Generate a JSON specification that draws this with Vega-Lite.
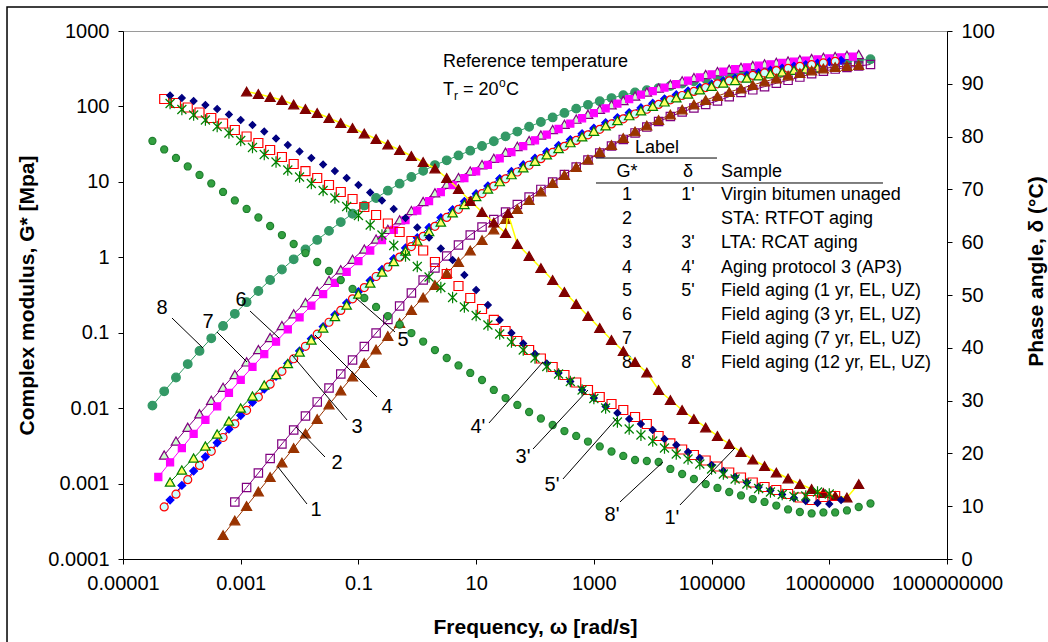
{
"$schema":"https://vega.github.io/schema/vega-lite/v6.json",
"width":824,"height":528,"autosize":"none",
"padding":{"left":123,"top":31,"right":101,"bottom":83},
"background":"white",
"config":{"font":"Liberation Sans","view":{"stroke":"#9a9a9a","strokeWidth":1},
"axis":{"grid":false,"domainColor":"#000","domainWidth":1,"tickColor":"#000","tickSize":5,"tickWidth":1,"labelColor":"#000","labelFont":"Liberation Sans","labelFontSize":20,"labelPadding":9,"labelOverlap":false,"labelFlush":false,"titleColor":"#000","titleFont":"Liberation Sans","titleFontSize":21,"titleFontWeight":"bold"}},
"datasets":{
"G":[
{"s":"8","w":3.162e-5,"g":0.0108},{"s":"8","w":5.012e-5,"g":0.0167},{"s":"8","w":7.943e-5,"g":0.0255},{"s":"8","w":1.259e-4,"g":0.0384},{"s":"8","w":1.995e-4,"g":0.0574},{"s":"8","w":3.162e-4,"g":0.0843},{"s":"8","w":5.012e-4,"g":0.123},{"s":"8","w":7.943e-4,"g":0.178},{"s":"8","w":1.259e-3,"g":0.254},{"s":"8","w":1.995e-3,"g":0.357},{"s":"8","w":3.162e-3,"g":0.5},{"s":"8","w":5.012e-3,"g":0.689},{"s":"8","w":7.943e-3,"g":0.94},{"s":"8","w":0.01259,"g":1.27},{"s":"8","w":0.01995,"g":1.7},{"s":"8","w":0.03162,"g":2.24},{"s":"8","w":0.05012,"g":2.93},{"s":"8","w":0.07943,"g":3.78},{"s":"8","w":0.1259,"g":4.84},{"s":"8","w":0.1995,"g":6.11},{"s":"8","w":0.3162,"g":7.64},{"s":"8","w":0.5012,"g":9.46},{"s":"8","w":0.7943,"g":11.6},{"s":"8","w":1.259,"g":14},{"s":"8","w":1.995,"g":16.7},{"s":"8","w":3.162,"g":19.3},{"s":"8","w":5.012,"g":22.4},{"s":"8","w":7.943,"g":25.9},{"s":"8","w":12.59,"g":29.9},{"s":"8","w":19.95,"g":34.6},{"s":"8","w":31.62,"g":40.1},{"s":"8","w":50.12,"g":46.4},{"s":"8","w":79.43,"g":53.7},{"s":"8","w":125.9,"g":62.2},{"s":"8","w":199.5,"g":71.5},{"s":"8","w":316.2,"g":82},{"s":"8","w":501.2,"g":93.5},{"s":"8","w":794.3,"g":105},{"s":"8","w":1259,"g":117},{"s":"8","w":1995,"g":129},{"s":"8","w":3162,"g":141},{"s":"8","w":5012,"g":153},{"s":"8","w":7943,"g":164},{"s":"8","w":12590,"g":175},{"s":"8","w":19950,"g":187},{"s":"8","w":31620,"g":201},{"s":"8","w":50120,"g":216},{"s":"8","w":79430,"g":232},{"s":"8","w":1.259e5,"g":247},{"s":"8","w":1.995e5,"g":264},{"s":"8","w":3.162e5,"g":277},{"s":"8","w":5.012e5,"g":290},{"s":"8","w":7.943e5,"g":304},{"s":"8","w":1.259e6,"g":318},{"s":"8","w":1.995e6,"g":330},{"s":"8","w":3.162e6,"g":344},{"s":"8","w":5.012e6,"g":356},{"s":"8","w":7.943e6,"g":370},{"s":"8","w":1.259e7,"g":382},{"s":"8","w":1.995e7,"g":395},{"s":"8","w":3.162e7,"g":409},{"s":"8","w":5.012e7,"g":422},
{"s":"7","w":5.012e-5,"g":0.00239},{"s":"7","w":7.943e-5,"g":0.00366},{"s":"7","w":1.259e-4,"g":0.00558},{"s":"7","w":1.995e-4,"g":0.00843},{"s":"7","w":3.162e-4,"g":0.01268},{"s":"7","w":5.012e-4,"g":0.01888},{"s":"7","w":7.943e-4,"g":0.02793},{"s":"7","w":1.259e-3,"g":0.04102},{"s":"7","w":1.995e-3,"g":0.0597},{"s":"7","w":3.162e-3,"g":0.0865},{"s":"7","w":5.012e-3,"g":0.1242},{"s":"7","w":7.943e-3,"g":0.1778},{"s":"7","w":0.01259,"g":0.2506},{"s":"7","w":0.01995,"g":0.3532},{"s":"7","w":0.03162,"g":0.4943},{"s":"7","w":0.05012,"g":0.684},{"s":"7","w":0.07943,"g":0.94},{"s":"7","w":0.1259,"g":1.285},{"s":"7","w":0.1995,"g":1.742},{"s":"7","w":0.3162,"g":2.344},{"s":"7","w":0.5012,"g":3.14},{"s":"7","w":0.7943,"g":4.16},{"s":"7","w":1.259,"g":5.5},{"s":"7","w":1.995,"g":7.16},{"s":"7","w":3.162,"g":9.31},{"s":"7","w":5.012,"g":11.4},{"s":"7","w":7.943,"g":13.9},{"s":"7","w":12.59,"g":16.9},{"s":"7","w":19.95,"g":20.5},{"s":"7","w":31.62,"g":24.7},{"s":"7","w":50.12,"g":29.5},{"s":"7","w":79.43,"g":35.2},{"s":"7","w":125.9,"g":41.8},{"s":"7","w":199.5,"g":49.3},{"s":"7","w":316.2,"g":57.9},{"s":"7","w":501.2,"g":67.8},{"s":"7","w":794.3,"g":78.7},{"s":"7","w":1259,"g":91.5},{"s":"7","w":1995,"g":105},{"s":"7","w":3162,"g":120},{"s":"7","w":5012,"g":137},{"s":"7","w":7943,"g":155},{"s":"7","w":12590,"g":175},{"s":"7","w":19950,"g":196},{"s":"7","w":31620,"g":218},{"s":"7","w":50120,"g":241},{"s":"7","w":79430,"g":265},{"s":"7","w":1.259e5,"g":289},{"s":"7","w":1.995e5,"g":311},{"s":"7","w":3.162e5,"g":330},{"s":"7","w":5.012e5,"g":349},{"s":"7","w":7.943e5,"g":366},{"s":"7","w":1.259e6,"g":384},{"s":"7","w":1.995e6,"g":400},{"s":"7","w":3.162e6,"g":417},{"s":"7","w":5.012e6,"g":432},{"s":"7","w":7.943e6,"g":447},{"s":"7","w":1.259e7,"g":460},{"s":"7","w":1.995e7,"g":475},{"s":"7","w":3.162e7,"g":488},
{"s":"6","w":3.981e-5,"g":1.222e-3},{"s":"6","w":6.31e-5,"g":1.91e-3},{"s":"6","w":1e-4,"g":2.96e-3},{"s":"6","w":1.585e-4,"g":4.56e-3},{"s":"6","w":2.512e-4,"g":6.97e-3},{"s":"6","w":3.981e-4,"g":0.01054},{"s":"6","w":6.31e-4,"g":0.01589},{"s":"6","w":1e-3,"g":0.02377},{"s":"6","w":1.585e-3,"g":0.03524},{"s":"6","w":2.512e-3,"g":0.05188},{"s":"6","w":3.981e-3,"g":0.076},{"s":"6","w":6.31e-3,"g":0.1107},{"s":"6","w":0.01,"g":0.1592},{"s":"6","w":0.01585,"g":0.228},{"s":"6","w":0.02512,"g":0.3243},{"s":"6","w":0.03981,"g":0.4592},{"s":"6","w":0.0631,"g":0.64},{"s":"6","w":0.1,"g":0.889},{"s":"6","w":0.1585,"g":1.23},{"s":"6","w":0.2512,"g":1.687},{"s":"6","w":0.3981,"g":2.301},{"s":"6","w":0.631,"g":3.105},{"s":"6","w":1,"g":4.169},{"s":"6","w":1.585,"g":5.546},{"s":"6","w":2.512,"g":7.31},{"s":"6","w":3.981,"g":9.08},{"s":"6","w":6.31,"g":11.19},{"s":"6","w":10,"g":13.77},{"s":"6","w":15.85,"g":16.83},{"s":"6","w":25.12,"g":20.46},{"s":"6","w":39.81,"g":24.7},{"s":"6","w":63.1,"g":29.7},{"s":"6","w":100,"g":35.6},{"s":"6","w":158.5,"g":42.4},{"s":"6","w":251.2,"g":50.2},{"s":"6","w":398.1,"g":59.2},{"s":"6","w":631,"g":69.7},{"s":"6","w":1000,"g":81.3},{"s":"6","w":1585,"g":94.4},{"s":"6","w":2512,"g":109},{"s":"6","w":3981,"g":125},{"s":"6","w":6310,"g":143},{"s":"6","w":10000,"g":160},{"s":"6","w":15850,"g":178},{"s":"6","w":25120,"g":198},{"s":"6","w":39810,"g":220},{"s":"6","w":63100,"g":242},{"s":"6","w":1e5,"g":266},{"s":"6","w":1.585e5,"g":290},{"s":"6","w":2.512e5,"g":312},{"s":"6","w":3.981e5,"g":330},{"s":"6","w":6.31e5,"g":347},{"s":"6","w":1e6,"g":362},{"s":"6","w":1.585e6,"g":377},{"s":"6","w":2.512e6,"g":392},{"s":"6","w":3.981e6,"g":406},{"s":"6","w":6.31e6,"g":420},{"s":"6","w":1e7,"g":433},{"s":"6","w":1.585e7,"g":446},{"s":"6","w":2.512e7,"g":458},
{"s":"4","w":6.31e-5,"g":6.05e-4},{"s":"4","w":1e-4,"g":9.46e-4},{"s":"4","w":1.585e-4,"g":1.469e-3},{"s":"4","w":2.512e-4,"g":2.265e-3},{"s":"4","w":3.981e-4,"g":3.475e-3},{"s":"4","w":6.31e-4,"g":5.27e-3},{"s":"4","w":1e-3,"g":7.99e-3},{"s":"4","w":1.585e-3,"g":0.012},{"s":"4","w":2.512e-3,"g":0.0179},{"s":"4","w":3.981e-3,"g":0.0265},{"s":"4","w":6.31e-3,"g":0.0391},{"s":"4","w":0.01,"g":0.0574},{"s":"4","w":0.01585,"g":0.0834},{"s":"4","w":0.02512,"g":0.1205},{"s":"4","w":0.03981,"g":0.173},{"s":"4","w":0.0631,"g":0.2477},{"s":"4","w":0.1,"g":0.35},{"s":"4","w":0.1585,"g":0.492},{"s":"4","w":0.2512,"g":0.69},{"s":"4","w":0.3981,"g":0.957},{"s":"4","w":0.631,"g":1.327},{"s":"4","w":1,"g":1.82},{"s":"4","w":1.585,"g":2.483},{"s":"4","w":2.512,"g":3.357},{"s":"4","w":3.981,"g":4.266},{"s":"4","w":6.31,"g":5.51},{"s":"4","w":10,"g":6.98},{"s":"4","w":15.85,"g":8.81},{"s":"4","w":25.12,"g":11.04},{"s":"4","w":39.81,"g":13.68},{"s":"4","w":63.1,"g":16.83},{"s":"4","w":100,"g":20.6},{"s":"4","w":158.5,"g":25.1},{"s":"4","w":251.2,"g":30.3},{"s":"4","w":398.1,"g":36.3},{"s":"4","w":631,"g":43.4},{"s":"4","w":1000,"g":51.4},{"s":"4","w":1585,"g":60.7},{"s":"4","w":2512,"g":71.1},{"s":"4","w":3981,"g":82.8},{"s":"4","w":6310,"g":95.9},{"s":"4","w":10000,"g":110},{"s":"4","w":15850,"g":126},{"s":"4","w":25120,"g":143},{"s":"4","w":39810,"g":160},{"s":"4","w":63100,"g":179},{"s":"4","w":1e5,"g":198},{"s":"4","w":1.585e5,"g":219},{"s":"4","w":2.512e5,"g":239},{"s":"4","w":3.981e5,"g":259},{"s":"4","w":6.31e5,"g":280},{"s":"4","w":1e6,"g":301},{"s":"4","w":1.585e6,"g":321},{"s":"4","w":2.512e6,"g":340},{"s":"4","w":3.981e6,"g":357},{"s":"4","w":6.31e6,"g":375},{"s":"4","w":1e7,"g":392},{"s":"4","w":1.585e7,"g":407},
{"s":"3","w":5.012e-5,"g":4.9e-4},{"s":"3","w":7.943e-5,"g":7.23e-4},{"s":"3","w":1.259e-4,"g":1.125e-3},{"s":"3","w":1.995e-4,"g":1.742e-3},{"s":"3","w":3.162e-4,"g":2.679e-3},{"s":"3","w":5.012e-4,"g":4.083e-3},{"s":"3","w":7.943e-4,"g":6.19e-3},{"s":"3","w":1.259e-3,"g":9.35e-3},{"s":"3","w":1.995e-3,"g":0.014},{"s":"3","w":3.162e-3,"g":0.0208},{"s":"3","w":5.012e-3,"g":0.03076},{"s":"3","w":7.943e-3,"g":0.04519},{"s":"3","w":0.01259,"g":0.0661},{"s":"3","w":0.01995,"g":0.0957},{"s":"3","w":0.03162,"g":0.1377},{"s":"3","w":0.05012,"g":0.1977},{"s":"3","w":0.07943,"g":0.2812},{"s":"3","w":0.1259,"g":0.3963},{"s":"3","w":0.1995,"g":0.5559},{"s":"3","w":0.3162,"g":0.741},{"s":"3","w":0.5012,"g":1.005},{"s":"3","w":0.7943,"g":1.387},{"s":"3","w":1.259,"g":1.897},{"s":"3","w":1.995,"g":2.576},{"s":"3","w":3.162,"g":3.373},{"s":"3","w":5.012,"g":4.325},{"s":"3","w":7.943,"g":5.534},{"s":"3","w":12.59,"g":7},{"s":"3","w":19.95,"g":8.79},{"s":"3","w":31.62,"g":10.96},{"s":"3","w":50.12,"g":13.52},{"s":"3","w":79.43,"g":16.6},{"s":"3","w":125.9,"g":20.28},{"s":"3","w":199.5,"g":24.55},{"s":"3","w":316.2,"g":29.58},{"s":"3","w":501.2,"g":35.4},{"s":"3","w":794.3,"g":42.07},{"s":"3","w":1259,"g":49.77},{"s":"3","w":1995,"g":58.6},{"s":"3","w":3162,"g":68.4},{"s":"3","w":5012,"g":79.4},{"s":"3","w":7943,"g":91.8},{"s":"3","w":12590,"g":106.4},{"s":"3","w":19950,"g":122.2},{"s":"3","w":31620,"g":139.6},{"s":"3","w":50120,"g":158.1},{"s":"3","w":79430,"g":177.8},{"s":"3","w":1.259e5,"g":199.1},{"s":"3","w":1.995e5,"g":218.3},{"s":"3","w":3.162e5,"g":237.7},{"s":"3","w":5.012e5,"g":257.6},{"s":"3","w":7.943e5,"g":277.3},{"s":"3","w":1.259e6,"g":298.5},{"s":"3","w":1.995e6,"g":319.2},{"s":"3","w":3.162e6,"g":338.8},{"s":"3","w":5.012e6,"g":358.1},{"s":"3","w":7.943e6,"g":377.6},{"s":"3","w":1.259e7,"g":395.4},
{"s":"5","w":6.31e-5,"g":1.05e-3},{"s":"5","w":1e-4,"g":1.514e-3},{"s":"5","w":1.585e-4,"g":2.183e-3},{"s":"5","w":2.512e-4,"g":3.148e-3},{"s":"5","w":3.981e-4,"g":4.54e-3},{"s":"5","w":6.31e-4,"g":6.76e-3},{"s":"5","w":1e-3,"g":0.01005},{"s":"5","w":1.585e-3,"g":0.01449},{"s":"5","w":2.512e-3,"g":0.02028},{"s":"5","w":3.981e-3,"g":0.02793},{"s":"5","w":6.31e-3,"g":0.0391},{"s":"5","w":0.01,"g":0.0555},{"s":"5","w":0.01585,"g":0.08},{"s":"5","w":0.02512,"g":0.1156},{"s":"5","w":0.03981,"g":0.1641},{"s":"5","w":0.0631,"g":0.2328},{"s":"5","w":0.1,"g":0.3258},{"s":"5","w":0.1585,"g":0.456},{"s":"5","w":0.2512,"g":0.638},{"s":"5","w":0.3981,"g":0.879},{"s":"5","w":0.631,"g":1.211},{"s":"5","w":1,"g":1.644},{"s":"5","w":1.585,"g":2.198},{"s":"5","w":2.512,"g":2.938},{"s":"5","w":3.981,"g":3.89},{"s":"5","w":6.31,"g":5.02},{"s":"5","w":10,"g":6.38},{"s":"5","w":15.85,"g":8.04},{"s":"5","w":25.12,"g":10.07},{"s":"5","w":39.81,"g":12.47},{"s":"5","w":63.1,"g":15.35},{"s":"5","w":100,"g":18.79},{"s":"5","w":158.5,"g":22.86},{"s":"5","w":251.2,"g":27.61},{"s":"5","w":398.1,"g":33.11},{"s":"5","w":631,"g":39.54},{"s":"5","w":1000,"g":46.99},{"s":"5","w":1585,"g":55.3},{"s":"5","w":2512,"g":64.9},{"s":"5","w":3981,"g":75.5},{"s":"5","w":6310,"g":87.5},{"s":"5","w":10000,"g":100.7},{"s":"5","w":15850,"g":114.8},{"s":"5","w":25120,"g":130},{"s":"5","w":39810,"g":146},{"s":"5","w":63100,"g":166},{"s":"5","w":1e5,"g":185},{"s":"5","w":1.585e5,"g":204},{"s":"5","w":2.512e5,"g":221},{"s":"5","w":3.981e5,"g":238},{"s":"5","w":6.31e5,"g":255},{"s":"5","w":1e6,"g":271},{"s":"5","w":1.585e6,"g":286},{"s":"5","w":2.512e6,"g":301},{"s":"5","w":3.981e6,"g":313},{"s":"5","w":6.31e6,"g":325},
{"s":"2","w":7.943e-4,"g":5.7e-4},{"s":"2","w":1.259e-3,"g":8.87e-4},{"s":"2","w":1.995e-3,"g":1.38e-3},{"s":"2","w":3.162e-3,"g":2.148e-3},{"s":"2","w":5.012e-3,"g":3.35e-3},{"s":"2","w":7.943e-3,"g":5.13e-3},{"s":"2","w":0.01259,"g":7.87e-3},{"s":"2","w":0.01995,"g":0.01208},{"s":"2","w":0.03162,"g":0.01849},{"s":"2","w":0.05012,"g":0.02838},{"s":"2","w":0.07943,"g":0.04345},{"s":"2","w":0.1259,"g":0.0656},{"s":"2","w":0.1995,"g":0.0991},{"s":"2","w":0.3162,"g":0.1496},{"s":"2","w":0.5012,"g":0.2259},{"s":"2","w":0.7943,"g":0.3365},{"s":"2","w":1.259,"g":0.5},{"s":"2","w":1.995,"g":0.721},{"s":"2","w":3.162,"g":1.04},{"s":"2","w":5.012,"g":1.455},{"s":"2","w":7.943,"g":1.977},{"s":"2","w":12.59,"g":2.523},{"s":"2","w":19.95,"g":3.17},{"s":"2","w":31.62,"g":3.981},{"s":"2","w":50.12,"g":5.012},{"s":"2","w":79.43,"g":6.3},{"s":"2","w":125.9,"g":7.93},{"s":"2","w":199.5,"g":9.95},{"s":"2","w":316.2,"g":12.53},{"s":"2","w":501.2,"g":15.74},{"s":"2","w":794.3,"g":19.5},{"s":"2","w":1259,"g":24.15},{"s":"2","w":1995,"g":29.85},{"s":"2","w":3162,"g":36.5},{"s":"2","w":5012,"g":44.5},{"s":"2","w":7943,"g":53.3},{"s":"2","w":12590,"g":63.1},{"s":"2","w":19950,"g":73.5},{"s":"2","w":31620,"g":84.3},{"s":"2","w":50120,"g":95.3},{"s":"2","w":79430,"g":106.1},{"s":"2","w":1.259e5,"g":118},{"s":"2","w":1.995e5,"g":135},{"s":"2","w":3.162e5,"g":153},{"s":"2","w":5.012e5,"g":166},{"s":"2","w":7.943e5,"g":183},{"s":"2","w":1.259e6,"g":203},{"s":"2","w":1.995e6,"g":222},{"s":"2","w":3.162e6,"g":245},{"s":"2","w":5.012e6,"g":272},{"s":"2","w":7.943e6,"g":294},{"s":"2","w":1.259e7,"g":313},{"s":"2","w":1.995e7,"g":328},{"s":"2","w":3.162e7,"g":343},{"s":"2","w":5.012e7,"g":360},
{"s":"1","w":5.012e-4,"g":2.08e-4},{"s":"1","w":7.943e-4,"g":3.243e-4},{"s":"1","w":1.259e-3,"g":5.05e-4},{"s":"1","w":1.995e-3,"g":7.85e-4},{"s":"1","w":3.162e-3,"g":1.222e-3},{"s":"1","w":5.012e-3,"g":1.901e-3},{"s":"1","w":7.943e-3,"g":2.965e-3},{"s":"1","w":0.01259,"g":4.61e-3},{"s":"1","w":0.01995,"g":7.18e-3},{"s":"1","w":0.03162,"g":0.01117},{"s":"1","w":0.05012,"g":0.01714},{"s":"1","w":0.07943,"g":0.0263},{"s":"1","w":0.1259,"g":0.03972},{"s":"1","w":0.1995,"g":0.06},{"s":"1","w":0.3162,"g":0.0906},{"s":"1","w":0.5012,"g":0.1346},{"s":"1","w":0.7943,"g":0.2},{"s":"1","w":1.259,"g":0.2931},{"s":"1","w":1.995,"g":0.4295},{"s":"1","w":3.162,"g":0.6194},{"s":"1","w":5.012,"g":0.867},{"s":"1","w":7.943,"g":1.23},{"s":"1","w":12.59,"g":1.694},{"s":"1","w":19.95,"g":2.333},{"s":"1","w":31.62,"g":3.221},{"s":"1","w":50.12,"g":4.365},{"s":"1","w":79.43,"g":5.75},{"s":"1","w":125.9,"g":7.45},{"s":"1","w":199.5,"g":9.66},{"s":"1","w":316.2,"g":12.33},{"s":"1","w":501.2,"g":15.74},{"s":"1","w":794.3,"g":19.77},{"s":"1","w":1259,"g":24.88},{"s":"1","w":1995,"g":30.83},{"s":"1","w":3162,"g":38.2},{"s":"1","w":5012,"g":46.6},{"s":"1","w":7943,"g":55.9},{"s":"1","w":12590,"g":66.1},{"s":"1","w":19950,"g":78.2},{"s":"1","w":31620,"g":91},{"s":"1","w":50120,"g":106.1},{"s":"1","w":79430,"g":121.7},{"s":"1","w":1.259e5,"g":137.4},{"s":"1","w":1.995e5,"g":155.2},{"s":"1","w":3.162e5,"g":172.9},{"s":"1","w":5.012e5,"g":192.3},{"s":"1","w":7.943e5,"g":213.8},{"s":"1","w":1.259e6,"g":234.4},{"s":"1","w":1.995e6,"g":257},{"s":"1","w":3.162e6,"g":277.3},{"s":"1","w":5.012e6,"g":299.2},{"s":"1","w":7.943e6,"g":318.4},{"s":"1","w":1.259e7,"g":333.4},{"s":"1","w":1.995e7,"g":343.6},{"s":"1","w":3.162e7,"g":354}
],
"D":[
{"s":"1'","w":1.259e-3,"d":88.54},{"s":"1'","w":1.995e-3,"d":88.07},{"s":"1'","w":3.162e-3,"d":87.5},{"s":"1'","w":5.012e-3,"d":86.93},{"s":"1'","w":7.943e-3,"d":86.08},{"s":"1'","w":0.01259,"d":85.23},{"s":"1'","w":0.01995,"d":84.47},{"s":"1'","w":0.03162,"d":83.52},{"s":"1'","w":0.05012,"d":82.58},{"s":"1'","w":0.07943,"d":81.63},{"s":"1'","w":0.1259,"d":80.59},{"s":"1'","w":0.1995,"d":79.55},{"s":"1'","w":0.3162,"d":78.5},{"s":"1'","w":0.5012,"d":77.46},{"s":"1'","w":0.7943,"d":76.33},{"s":"1'","w":1.259,"d":75.19},{"s":"1'","w":1.995,"d":73.96},{"s":"1'","w":3.162,"d":72.16},{"s":"1'","w":5.012,"d":70.08},{"s":"1'","w":7.943,"d":67.8},{"s":"1'","w":12.59,"d":65.72},{"s":"1'","w":19.95,"d":63.73},{"s":"1'","w":31.62,"d":61.74},{"s":"1'","w":34.7,"d":65.5},{"s":"1'","w":50.12,"d":59.66},{"s":"1'","w":79.43,"d":57.39},{"s":"1'","w":125.9,"d":55.11},{"s":"1'","w":199.5,"d":52.84},{"s":"1'","w":316.2,"d":50.57},{"s":"1'","w":501.2,"d":48.3},{"s":"1'","w":794.3,"d":46.02},{"s":"1'","w":1259,"d":43.75},{"s":"1'","w":1995,"d":41.48},{"s":"1'","w":3162,"d":39.39},{"s":"1'","w":5012,"d":37.31},{"s":"1'","w":7943,"d":35.32},{"s":"1'","w":12590,"d":32.01},{"s":"1'","w":19950,"d":30.11},{"s":"1'","w":31620,"d":28.22},{"s":"1'","w":50120,"d":26.52},{"s":"1'","w":79430,"d":24.91},{"s":"1'","w":1.259e5,"d":23.3},{"s":"1'","w":1.995e5,"d":21.78},{"s":"1'","w":3.162e5,"d":20.27},{"s":"1'","w":5.012e5,"d":18.84},{"s":"1'","w":7.943e5,"d":17.61},{"s":"1'","w":1.259e6,"d":16.38},{"s":"1'","w":1.995e6,"d":15.25},{"s":"1'","w":3.162e6,"d":14.2},{"s":"1'","w":5.012e6,"d":13.26},{"s":"1'","w":7.943e6,"d":12.5},{"s":"1'","w":1.259e7,"d":11.93},{"s":"1'","w":1.995e7,"d":11.65},{"s":"1'","w":3.162e7,"d":14.2},
{"s":"3'","w":5.012e-5,"d":87.12},{"s":"3'","w":7.943e-5,"d":86.36},{"s":"3'","w":1.259e-4,"d":85.51},{"s":"3'","w":1.995e-4,"d":84.56},{"s":"3'","w":3.162e-4,"d":83.52},{"s":"3'","w":5.012e-4,"d":82.48},{"s":"3'","w":7.943e-4,"d":81.25},{"s":"3'","w":1.259e-3,"d":80.02},{"s":"3'","w":1.995e-3,"d":78.79},{"s":"3'","w":3.162e-3,"d":77.46},{"s":"3'","w":5.012e-3,"d":76.14},{"s":"3'","w":7.943e-3,"d":74.81},{"s":"3'","w":0.01259,"d":73.48},{"s":"3'","w":0.01995,"d":72.16},{"s":"3'","w":0.03162,"d":70.83},{"s":"3'","w":0.05012,"d":69.51},{"s":"3'","w":0.07943,"d":68.18},{"s":"3'","w":0.1259,"d":66.67},{"s":"3'","w":0.1995,"d":65.15},{"s":"3'","w":0.3162,"d":63.54},{"s":"3'","w":0.5012,"d":61.93},{"s":"3'","w":0.7943,"d":60.23},{"s":"3'","w":1.259,"d":58.43},{"s":"3'","w":1.995,"d":56.25},{"s":"3'","w":3.162,"d":53.98},{"s":"3'","w":5.012,"d":51.7},{"s":"3'","w":7.943,"d":49.43},{"s":"3'","w":12.59,"d":47.35},{"s":"3'","w":19.95,"d":45.27},{"s":"3'","w":31.62,"d":43.18},{"s":"3'","w":50.12,"d":41.29},{"s":"3'","w":79.43,"d":39.58},{"s":"3'","w":125.9,"d":37.97},{"s":"3'","w":199.5,"d":36.36},{"s":"3'","w":316.2,"d":34.85},{"s":"3'","w":501.2,"d":33.43},{"s":"3'","w":794.3,"d":32.01},{"s":"3'","w":1259,"d":30.68},{"s":"3'","w":1995,"d":29.36},{"s":"3'","w":3162,"d":28.22},{"s":"3'","w":5012,"d":26.89},{"s":"3'","w":7943,"d":25.57},{"s":"3'","w":12590,"d":23.3},{"s":"3'","w":19950,"d":21.88},{"s":"3'","w":31620,"d":20.74},{"s":"3'","w":50120,"d":19.7},{"s":"3'","w":79430,"d":18.66},{"s":"3'","w":1.259e5,"d":17.52},{"s":"3'","w":1.995e5,"d":16.38},{"s":"3'","w":3.162e5,"d":15.44},{"s":"3'","w":5.012e5,"d":14.49},{"s":"3'","w":7.943e5,"d":13.64},{"s":"3'","w":1.259e6,"d":13.07},{"s":"3'","w":1.995e6,"d":12.31},{"s":"3'","w":3.162e6,"d":11.65},{"s":"3'","w":5.012e6,"d":11.17},{"s":"3'","w":7.943e6,"d":11.74},{"s":"3'","w":1.259e7,"d":11.93},
{"s":"4'","w":6.31e-5,"d":87.78},{"s":"4'","w":1e-4,"d":87.31},{"s":"4'","w":1.585e-4,"d":86.74},{"s":"4'","w":2.512e-4,"d":85.98},{"s":"4'","w":3.981e-4,"d":85.23},{"s":"4'","w":6.31e-4,"d":84.19},{"s":"4'","w":1e-3,"d":83.14},{"s":"4'","w":1.585e-3,"d":82.2},{"s":"4'","w":2.512e-3,"d":80.97},{"s":"4'","w":3.981e-3,"d":79.64},{"s":"4'","w":6.31e-3,"d":78.41},{"s":"4'","w":0.01,"d":77.18},{"s":"4'","w":0.01585,"d":75.95},{"s":"4'","w":0.02512,"d":74.72},{"s":"4'","w":0.03981,"d":73.48},{"s":"4'","w":0.0631,"d":72.16},{"s":"4'","w":0.1,"d":70.83},{"s":"4'","w":0.1585,"d":69.41},{"s":"4'","w":0.2512,"d":67.9},{"s":"4'","w":0.3981,"d":66.29},{"s":"4'","w":0.631,"d":64.58},{"s":"4'","w":1,"d":62.78},{"s":"4'","w":1.585,"d":60.89},{"s":"4'","w":2.512,"d":58.81},{"s":"4'","w":3.981,"d":56.63},{"s":"4'","w":6.31,"d":53.79},{"s":"4'","w":10,"d":50.95},{"s":"4'","w":15.85,"d":48.11},{"s":"4'","w":25.12,"d":45.27},{"s":"4'","w":39.81,"d":42.8},{"s":"4'","w":63.1,"d":40.81},{"s":"4'","w":100,"d":38.83},{"s":"4'","w":158.5,"d":37.03},{"s":"4'","w":251.2,"d":35.23},{"s":"4'","w":398.1,"d":33.62},{"s":"4'","w":631,"d":32.01},{"s":"4'","w":1000,"d":30.49},{"s":"4'","w":1585,"d":28.88},{"s":"4'","w":2512,"d":27.65},{"s":"4'","w":3981,"d":26.52},{"s":"4'","w":6310,"d":25.57},{"s":"4'","w":10000,"d":24.43},{"s":"4'","w":15850,"d":22.73},{"s":"4'","w":25120,"d":21.59},{"s":"4'","w":39810,"d":20.27},{"s":"4'","w":63100,"d":19.13},{"s":"4'","w":1e5,"d":17.8},{"s":"4'","w":1.585e5,"d":16.67},{"s":"4'","w":2.512e5,"d":15.53},{"s":"4'","w":3.981e5,"d":14.49},{"s":"4'","w":6.31e5,"d":13.64},{"s":"4'","w":1e6,"d":12.97},{"s":"4'","w":1.585e6,"d":12.22},{"s":"4'","w":2.512e6,"d":11.55},{"s":"4'","w":3.981e6,"d":10.98},{"s":"4'","w":6.31e6,"d":10.61},{"s":"4'","w":1e7,"d":10.42},{"s":"4'","w":1.585e7,"d":11.17},
{"s":"5'","w":6.31e-5,"d":86.27},{"s":"5'","w":1e-4,"d":85.13},{"s":"5'","w":1.585e-4,"d":84.09},{"s":"5'","w":2.512e-4,"d":83.14},{"s":"5'","w":3.981e-4,"d":81.91},{"s":"5'","w":6.31e-4,"d":80.68},{"s":"5'","w":1e-3,"d":79.26},{"s":"5'","w":1.585e-3,"d":77.94},{"s":"5'","w":2.512e-3,"d":76.61},{"s":"5'","w":3.981e-3,"d":75.19},{"s":"5'","w":6.31e-3,"d":73.67},{"s":"5'","w":0.01,"d":72.35},{"s":"5'","w":0.01585,"d":71.12},{"s":"5'","w":0.02512,"d":69.79},{"s":"5'","w":0.03981,"d":68.37},{"s":"5'","w":0.0631,"d":66.76},{"s":"5'","w":0.1,"d":65.06},{"s":"5'","w":0.1585,"d":63.26},{"s":"5'","w":0.2512,"d":61.36},{"s":"5'","w":0.3981,"d":59.38},{"s":"5'","w":0.631,"d":57.39},{"s":"5'","w":1,"d":55.4},{"s":"5'","w":1.585,"d":53.41},{"s":"5'","w":2.512,"d":51.42},{"s":"5'","w":3.981,"d":49.53},{"s":"5'","w":6.31,"d":47.73},{"s":"5'","w":10,"d":46.12},{"s":"5'","w":15.85,"d":44.32},{"s":"5'","w":25.12,"d":42.61},{"s":"5'","w":39.81,"d":41.1},{"s":"5'","w":63.1,"d":39.58},{"s":"5'","w":100,"d":38.07},{"s":"5'","w":158.5,"d":36.46},{"s":"5'","w":251.2,"d":35.04},{"s":"5'","w":398.1,"d":33.62},{"s":"5'","w":631,"d":32.01},{"s":"5'","w":1000,"d":30.4},{"s":"5'","w":1585,"d":28.6},{"s":"5'","w":2512,"d":25.95},{"s":"5'","w":3981,"d":24.62},{"s":"5'","w":6310,"d":23.48},{"s":"5'","w":10000,"d":22.35},{"s":"5'","w":15850,"d":21.02},{"s":"5'","w":25120,"d":19.89},{"s":"5'","w":39810,"d":18.94},{"s":"5'","w":63100,"d":17.99},{"s":"5'","w":1e5,"d":17.05},{"s":"5'","w":1.585e5,"d":16.1},{"s":"5'","w":2.512e5,"d":15.15},{"s":"5'","w":3.981e5,"d":14.2},{"s":"5'","w":6.31e5,"d":13.35},{"s":"5'","w":1e6,"d":12.69},{"s":"5'","w":1.585e6,"d":12.22},{"s":"5'","w":2.512e6,"d":11.84},{"s":"5'","w":3.981e6,"d":11.93},{"s":"5'","w":6.31e6,"d":12.69},{"s":"5'","w":1e7,"d":12.31},
{"s":"8'","w":3.162e-5,"d":79.17},{"s":"8'","w":5.012e-5,"d":77.56},{"s":"8'","w":7.943e-5,"d":75.95},{"s":"8'","w":1.259e-4,"d":74.34},{"s":"8'","w":1.995e-4,"d":72.73},{"s":"8'","w":3.162e-4,"d":71.12},{"s":"8'","w":5.012e-4,"d":69.51},{"s":"8'","w":7.943e-4,"d":67.9},{"s":"8'","w":1.259e-3,"d":66.29},{"s":"8'","w":1.995e-3,"d":64.68},{"s":"8'","w":3.162e-3,"d":63.07},{"s":"8'","w":5.012e-3,"d":61.36},{"s":"8'","w":7.943e-3,"d":59.66},{"s":"8'","w":0.01259,"d":57.95},{"s":"8'","w":0.01995,"d":56.25},{"s":"8'","w":0.03162,"d":54.55},{"s":"8'","w":0.05012,"d":52.84},{"s":"8'","w":0.07943,"d":51.14},{"s":"8'","w":0.1259,"d":49.43},{"s":"8'","w":0.1995,"d":47.73},{"s":"8'","w":0.3162,"d":46.02},{"s":"8'","w":0.5012,"d":44.41},{"s":"8'","w":0.7943,"d":42.8},{"s":"8'","w":1.259,"d":41.19},{"s":"8'","w":1.995,"d":39.58},{"s":"8'","w":3.162,"d":38.07},{"s":"8'","w":5.012,"d":36.65},{"s":"8'","w":7.943,"d":35.23},{"s":"8'","w":12.59,"d":33.9},{"s":"8'","w":19.95,"d":32.01},{"s":"8'","w":31.62,"d":30.49},{"s":"8'","w":50.12,"d":29.17},{"s":"8'","w":79.43,"d":27.84},{"s":"8'","w":125.9,"d":26.61},{"s":"8'","w":199.5,"d":25.38},{"s":"8'","w":316.2,"d":24.24},{"s":"8'","w":501.2,"d":23.3},{"s":"8'","w":794.3,"d":22.25},{"s":"8'","w":1259,"d":21.31},{"s":"8'","w":1995,"d":20.36},{"s":"8'","w":3162,"d":19.51},{"s":"8'","w":5012,"d":18.75},{"s":"8'","w":7943,"d":18.56},{"s":"8'","w":12590,"d":18.37},{"s":"8'","w":19950,"d":17.05},{"s":"8'","w":31620,"d":16.1},{"s":"8'","w":50120,"d":15.15},{"s":"8'","w":79430,"d":14.2},{"s":"8'","w":1.259e5,"d":13.45},{"s":"8'","w":1.995e5,"d":12.69},{"s":"8'","w":3.162e5,"d":12.03},{"s":"8'","w":5.012e5,"d":11.36},{"s":"8'","w":7.943e5,"d":10.8},{"s":"8'","w":1.259e6,"d":10.13},{"s":"8'","w":1.995e6,"d":9.38},{"s":"8'","w":3.162e6,"d":8.9},{"s":"8'","w":5.012e6,"d":8.62},{"s":"8'","w":7.943e6,"d":8.81},{"s":"8'","w":1.259e7,"d":8.81},{"s":"8'","w":1.995e7,"d":9.19},{"s":"8'","w":3.162e7,"d":9.85},{"s":"8'","w":5.012e7,"d":10.51}
],
"GL":[
{"w":6.8e-5,"g":0.1567,"w2":2.286e-4,"g2":0.0627},
{"w":3.95e-4,"g":0.1023,"w2":1.279e-3,"g2":0.0409},
{"w":1.438e-3,"g":0.194,"w2":4.47e-3,"g2":0.0851},
{"w":0.418,"g":0.1023,"w2":0.091,"g2":0.2884},
{"w":0.2065,"g":0.01406,"w2":0.01828,"g2":0.0933},
{"w":0.064,"g":6.97e-3,"w2":7.43e-3,"g2":0.0507},
{"w":0.02704,"g":2.25e-3,"w2":8.69e-3,"g2":5.62e-3},
{"w":0.01337,"g":5.36e-4,"w2":4.3e-3,"g2":1.66e-3},
{"w":1087,"g":20.7,"w2":1.236e5,"g2":20.7},
{"w":1087,"g":9.66,"w2":8.17e7,"g2":9.66}
],
"GT":[
{"t":"8","w":4.6e-5,"g":0.2128},{"t":"7","w":2.78e-4,"g":0.1387},{"t":"6","w":1.011e-3,"g":0.2716},{"t":"5","w":0.5715,"g":0.08},{"t":"4","w":0.3055,"g":0.01035},{"t":"3","w":0.0946,"g":5.62e-3},{"t":"2","w":0.04325,"g":1.875e-3},{"t":"1","w":0.01901,"g":4.47e-4}
],
"TC":[
{"t":"Label","w":11800,"g":28.1},{"t":"G*","w":3656,"g":13.52},{"t":"δ","w":39700,"g":13.52},
{"t":"1","w":3656,"g":6.7},{"t":"2","w":3656,"g":3.22},{"t":"3","w":3656,"g":1.546},{"t":"4","w":3656,"g":0.721},{"t":"5","w":3656,"g":0.357},{"t":"6","w":3656,"g":0.1718},{"t":"7","w":3656,"g":0.0826},{"t":"8","w":3656,"g":0.0397},
{"t":"1'","w":39700,"g":6.7},{"t":"3'","w":39700,"g":1.546},{"t":"4'","w":39700,"g":0.721},{"t":"5'","w":39700,"g":0.357},{"t":"8'","w":39700,"g":0.0397}
],
"TL":[
{"t":"Sample","w":1.445e5,"g":13.52},{"t":"Virgin bitumen unaged","w":1.445e5,"g":6.7},{"t":"STA: RTFOT aging","w":1.445e5,"g":3.22},{"t":"LTA: RCAT aging","w":1.445e5,"g":1.546},{"t":"Aging protocol 3 (AP3)","w":1.445e5,"g":0.721},{"t":"Field aging (1 yr, EL, UZ)","w":1.445e5,"g":0.357},{"t":"Field aging (3 yr, EL, UZ)","w":1.445e5,"g":0.1718},{"t":"Field aging (7 yr, EL, UZ)","w":1.445e5,"g":0.0826},{"t":"Field aging (12 yr, EL, UZ)","w":1.445e5,"g":0.0397},
{"t":"Reference temperature","w":2.735,"g":388},{"t":"T","w":2.735,"g":165.2},{"t":"= 20","w":5.97,"g":165.2},{"t":"C","w":32.1,"g":165.2}
],
"TS":[
{"t":"r","w":4.21,"g":137.4},{"t":"o","w":24.4,"g":204.6}
],
"DL":[
{"w":16.52,"d":25.76,"w2":136.8,"d2":37.31},
{"w":92.5,"d":20.83,"w2":794,"d2":32.0},
{"w":298.5,"d":15.15,"w2":2472,"d2":26.7},
{"w":2780,"d":10.8,"w2":14930,"d2":18.37},
{"w":29040,"d":10.23,"w2":2.5e5,"d2":21.02}
],
"DT":[
{"t":"4'","w":10.74,"d":25.0},{"t":"3'","w":62.5,"d":19.32},{"t":"5'","w":194.5,"d":14.0},{"t":"8'","w":2032,"d":8.33},{"t":"1'","w":21230,"d":7.77}
]
},
"encoding":{
"x":{"field":"w","type":"quantitative","scale":{"type":"log","domain":[1e-5,1e9],"nice":false},
"axis":{"values":[1e-5,0.001,0.1,10,1000,100000,10000000,1000000000],"format":".5~f","title":"Frequency, ω [rad/s]","titleY":68,"titleBaseline":"middle"}}
},
"layer":[
{"encoding":{
"y":{"field":"g","type":"quantitative","scale":{"type":"log","domain":[0.0001,1000],"nice":false},
"axis":{"orient":"left","values":[0.0001,0.001,0.01,0.1,1,10,100,1000],"format":".4~f","title":"Complex modulus, G* [Mpa]","titleAngle":270,"titleX":-96,"titleY":264,"titleAlign":"center","titleBaseline":"middle"}}},
"layer":[
{"data":{"values":[{"w":1.07e-7,"w2":5.61e10,"g":2080,"g2":7.24e-6}]},
"mark":{"type":"rect","fill":"transparent","stroke":"#000","strokeWidth":1.5},
"encoding":{"x2":{"field":"w2"},"y2":{"field":"g2"}}},
{"data":{"name":"G"},
"mark":{"type":"line","strokeWidth":1},
"encoding":{
"stroke":{"field":"s","type":"nominal","legend":null,"scale":{"domain":["1","2","3","4","5","6","7","8","1'","3'","4'","5'","8'"],"range":["#993300","#800080","#FF0000","#0000FF","#008000","#FF00FF","#800080","#339966","#800000","#FF0000","#000080","#008000","#1F7F2F"]}}}},
{"data":{"name":"G"},
"mark":{"type":"point","filled":true,"opacity":1,"strokeWidth":1.2},
"encoding":{
"stroke":{"field":"s","type":"nominal","legend":null,"scale":{"domain":["1","2","3","4","5","6","7","8","1'","3'","4'","5'","8'"],"range":["#993300","#800080","#FF0000","#0000FF","#008000","#FF00FF","#800080","#339966","#800000","#FF0000","#000080","#008000","#1F7F2F"]}},
"fill":{"field":"s","type":"nominal","legend":null,"scale":{"domain":["1","2","3","4","5","6","7","8","1'","3'","4'","5'","8'"],"range":["#993300","transparent","#CCFFFF","#0000FF","#FFFF66","#FF00FF","#CCFFCC","#339966","#800000","transparent","#000080","transparent","#33A040"]}},
"shape":{"field":"s","type":"nominal","legend":null,"scale":{"domain":["1","2","3","4","5","6","7","8","1'","3'","4'","5'","8'"],"range":["triangle-up","square","circle","diamond","triangle-up","square","triangle-up","circle","triangle-up","square","diamond","M-1,-1L1,1M1,-1L-1,1M0,-1.3L0,1.3","circle"]}},
"size":{"field":"s","type":"nominal","legend":null,"scale":{"type":"ordinal","domain":["1","2","3","4","5","6","7","8","1'","3'","4'","5'","8'"],"range":[100,70,64,60,90,50,90,75,100,81,45,81,50]}}}},
{"data":{"name":"GL"},
"mark":{"type":"rule","stroke":"#000","strokeWidth":1},
"encoding":{"x2":{"field":"w2"},"y2":{"field":"g2"}}},
{"data":{"name":"GT"},
"mark":{"type":"text","fill":"#000","fontSize":20,"font":"Liberation Sans","align":"center","baseline":"middle"},
"encoding":{"text":{"field":"t"}}},
{"data":{"name":"TC"},
"mark":{"type":"text","fill":"#000","fontSize":18,"font":"Liberation Sans","align":"center","baseline":"middle"},
"encoding":{"text":{"field":"t"}}},
{"data":{"name":"TL"},
"mark":{"type":"text","fill":"#000","fontSize":18,"font":"Liberation Sans","align":"left","baseline":"middle"},
"encoding":{"text":{"field":"t"}}},
{"data":{"name":"TS"},
"mark":{"type":"text","fill":"#000","fontSize":12,"font":"Liberation Sans","align":"left","baseline":"middle"},
"encoding":{"text":{"field":"t"}}}
]},
{"encoding":{
"y":{"field":"d","type":"quantitative","scale":{"type":"linear","domain":[0,100],"nice":false,"zero":false},
"axis":{"orient":"right","values":[0,10,20,30,40,50,60,70,80,90,100],"title":"Phase angle, δ (°C)","titleAngle":270,"titleX":89,"titleY":240,"titleAlign":"center","titleBaseline":"middle"}}},
"layer":[
{"data":{"name":"D"},
"transform":[{"filter":{"field":"s","equal":"1'"}}],
"mark":{"type":"line","stroke":"#FFFF00","strokeWidth":1.5}},
{"data":{"name":"D"},
"mark":{"type":"point","filled":true,"opacity":1,"strokeWidth":1.2},
"encoding":{
"stroke":{"field":"s","type":"nominal","legend":null,"scale":{"domain":["1","2","3","4","5","6","7","8","1'","3'","4'","5'","8'"],"range":["#993300","#800080","#FF0000","#0000FF","#008000","#FF00FF","#800080","#339966","#800000","#FF0000","#000080","#008000","#1F7F2F"]}},
"fill":{"field":"s","type":"nominal","legend":null,"scale":{"domain":["1","2","3","4","5","6","7","8","1'","3'","4'","5'","8'"],"range":["#993300","transparent","#CCFFFF","#0000FF","#FFFF66","#FF00FF","#CCFFCC","#339966","#800000","transparent","#000080","transparent","#33A040"]}},
"shape":{"field":"s","type":"nominal","legend":null,"scale":{"domain":["1","2","3","4","5","6","7","8","1'","3'","4'","5'","8'"],"range":["triangle-up","square","circle","diamond","triangle-up","square","triangle-up","circle","triangle-up","square","diamond","M-1,-1L1,1M1,-1L-1,1M0,-1.3L0,1.3","circle"]}},
"size":{"field":"s","type":"nominal","legend":null,"scale":{"type":"ordinal","domain":["1","2","3","4","5","6","7","8","1'","3'","4'","5'","8'"],"range":[100,70,64,60,90,50,90,75,100,81,45,81,50]}}}},
{"data":{"name":"DL"},
"mark":{"type":"rule","stroke":"#000","strokeWidth":1},
"encoding":{"x2":{"field":"w2"},"y2":{"field":"d2"}}},
{"data":{"name":"DT"},
"mark":{"type":"text","fill":"#000","fontSize":20,"font":"Liberation Sans","align":"center","baseline":"middle"},
"encoding":{"text":{"field":"t"}}}
]}
],
"resolve":{"scale":{"y":"independent"}}
}
